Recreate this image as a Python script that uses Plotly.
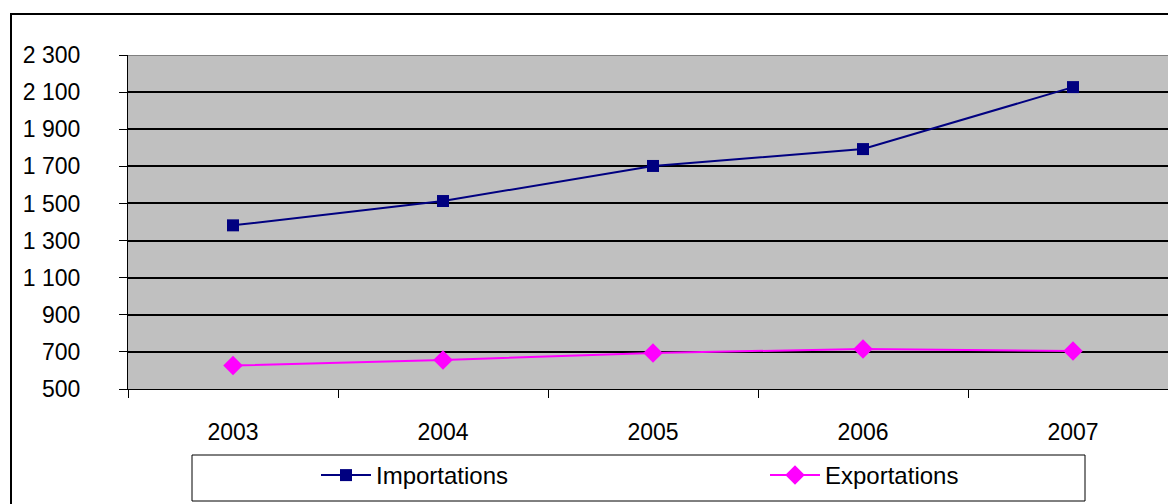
import plotly.graph_objects as go

years = ["2003", "2004", "2005", "2006", "2007"]
importations = [1382, 1513, 1702, 1793, 2127]
exportations = [626, 656, 694, 716, 705]
y_tickvals = [500, 700, 900, 1100, 1300, 1500, 1700, 1900, 2100, 2300]
y_ticktext = ["500", "700", "900", "1 100", "1 300", "1 500", "1 700", "1 900", "2 100", "2 300"]

FONT = "Liberation Sans, Arial, sans-serif"

fig = go.Figure()
fig.add_trace(go.Scatter(
    x=years, y=importations, name="Importations", mode="lines+markers",
    line=dict(color="#000080", width=2),
    marker=dict(symbol="square", size=12, color="#000080"),
))
fig.add_trace(go.Scatter(
    x=years, y=exportations, name="Exportations", mode="lines+markers",
    line=dict(color="#FF00FF", width=2),
    marker=dict(symbol="diamond", size=15, color="#FF00FF"),
))

OFF = 8  # page body margin
W, H = 1176 - OFF, 504 - OFF
L, R, T, B = 128 - OFF, 0, 55 - OFF, H - (389 - OFF)
pw = W - L - R
ph = H - T - B

def px_x(p):  # p in page pixels
    return (p - OFF - L) / pw

def px_y(p):
    return (H - B - (p - OFF)) / ph

fig.update_layout(
    width=W, height=H,
    margin=dict(l=L, r=R, t=T, b=B, autoexpand=False),
    paper_bgcolor="white",
    plot_bgcolor="#C0C0C0",
    font=dict(family=FONT, size=23, color="black"),
    showlegend=True,
    legend=dict(
        orientation="h", x=px_x(316), xanchor="left", y=px_y(453), yanchor="top",
        bgcolor="rgba(0,0,0,0)", borderwidth=0,
        font=dict(size=24, family=FONT),
        entrywidth=384, entrywidthmode="pixels", itemwidth=50,
    ),
    xaxis=dict(
        type="category", range=[-0.5, pw / 210 - 0.5],
        showgrid=False, showline=True, linecolor="black", linewidth=1,
        ticks="outside", tickson="boundaries", ticklen=8, tickcolor="black",
        ticklabelstandoff=22, tickfont=dict(size=23), zeroline=False,
    ),
    yaxis=dict(
        range=[500, 2300], tickvals=y_tickvals, ticktext=y_ticktext,
        showgrid=True, gridcolor="black", gridwidth=2,
        showline=True, linecolor="black", linewidth=1,
        ticks="outside", ticklen=8, tickcolor="black",
        ticklabelstandoff=34, tickfont=dict(size=23), zeroline=False,
    ),
    shapes=[
        dict(type="line", xref="paper", yref="y", x0=0, x1=1.01, y0=2300, y1=2300,
             line=dict(color="#808080", width=2)),
        dict(type="rect", xref="paper", yref="paper",
             x0=px_x(192), x1=px_x(1085), y0=px_y(501), y1=px_y(455),
             line=dict(color="black", width=1), fillcolor="rgba(0,0,0,0)"),
        dict(type="rect", xref="paper", yref="paper",
             x0=px_x(11), x1=px_x(1190), y0=px_y(520), y1=px_y(14),
             line=dict(color="black", width=2), fillcolor="rgba(0,0,0,0)"),
    ],
)

fig.write_html("out.html")
